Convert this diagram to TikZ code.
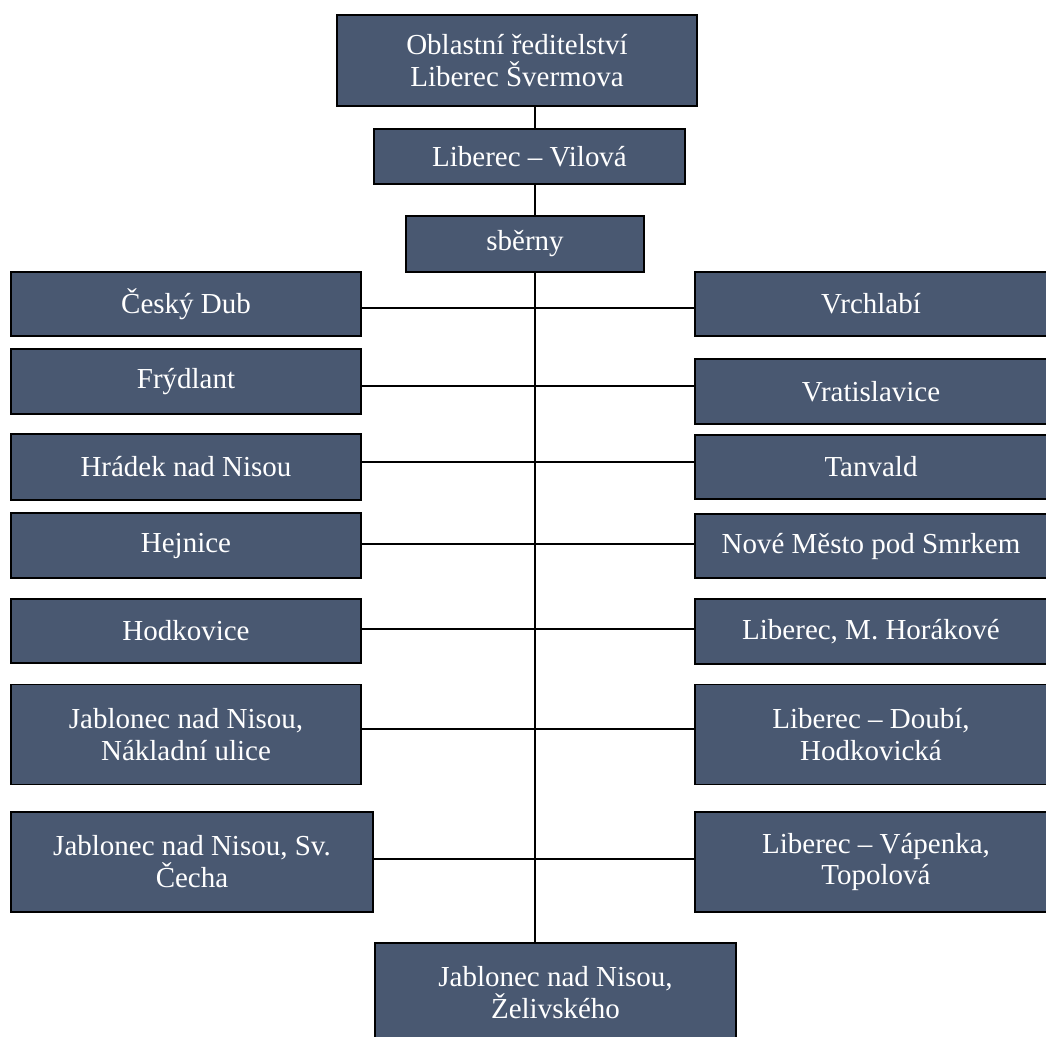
\documentclass[tikz,border=0pt]{standalone}
\usepackage{fontspec}
\setmainfont{Liberation Serif}
\usepackage{tikz}
\definecolor{boxblue}{RGB}{73,88,113}

\begin{document}
\begin{tikzpicture}[x=0.02cm,y=-0.02cm,line width=0.8pt,
    box/.style={rectangle,draw=black,fill=boxblue,text=white,align=center,
      font=\fontsize{16.5}{18.2}\selectfont,inner sep=0pt,
      minimum width=7cm,minimum height=1.3cm},
    tall/.style={box,minimum height=2cm},
    rbox/.style={box,minimum width=7.04cm}]
\useasboundingbox (0,0) rectangle (1046,1036);
\node[box,minimum width=7.2cm,minimum height=1.82cm] (ob) at (517,60.5) {Oblastní ředitelství\\Liberec Švermova};
\node[box,minimum width=6.22cm,minimum height=1.1cm] (vil) at (529.5,156.5) {Liberec -- Vilová};
\node[box,minimum width=4.76cm,minimum height=1.12cm] (sb) at (525,244) {sběrny};
% left column
\node[box,minimum height=1.28cm] (l1) at (186,304) {Český Dub};
\node[box] (l2) at (186,381.5) {Frýdlant};
\node[box,minimum height=1.32cm] (l3) at (186,467) {Hrádek nad Nisou};
\node[box] (l4) at (186,545.5) {Hejnice};
\node[box,minimum height=1.28cm] (l5) at (186,631) {Hodkovice};
\node[tall] (l6) at (186,734.5) {Jablonec nad Nisou,\\Nákladní ulice};
\node[tall,minimum width=7.24cm] (l7) at (192,862) {Jablonec nad Nisou, Sv.\\Čecha};
% right column
\node[rbox,minimum height=1.28cm] (r1) at (871,304) {Vrchlabí};
\node[rbox] (r2) at (871,391.5) {Vratislavice};
\node[rbox,minimum height=1.28cm] (r3) at (871,467) {Tanvald};
\node[rbox,minimum height=1.28cm] (r4) at (871,546) {Nové Město pod Smrkem};
\node[rbox] (r5) at (871,631.5) {Liberec, M. Horákové};
\node[tall,minimum width=7.04cm] (r6) at (871,734.5) {Liberec -- Doubí,\\Hodkovická};
\node[tall,minimum width=7.24cm] (r7) at (876,862) {Liberec -- Vápenka,\\Topolová};
\node[tall,minimum width=7.22cm] (bt) at (555.5,993) {Jablonec nad Nisou,\\Želivského};
% spine and branches
\foreach \i/\y in {1/308,2/386,3/462,4/544,5/629,6/729,7/859}
  \coordinate (j\i) at (535,\y);
\draw (ob.south -| j1) -- (vil.north -| j1);
\draw (vil.south -| j1) -- (sb.north -| j1);
\draw (sb.south -| j1) -- (bt.north -| j1);
\foreach \i in {1,...,7}
  \draw (l\i.east |- j\i) -- (r\i.west |- j\i);
\end{tikzpicture}
\end{document}
